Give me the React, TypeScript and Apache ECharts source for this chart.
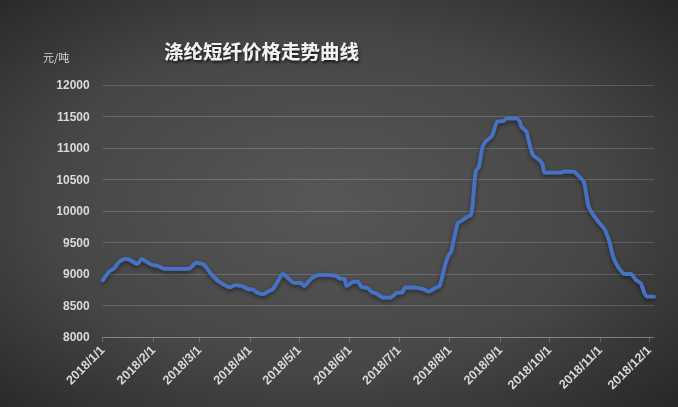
import React, { useEffect, useRef } from "react";
import * as echarts from "echarts";

// Sampled price points [date, 元/吨]
const pointDates = [
  "2018/1/1", "2018/1/5", "2018/1/8", "2018/1/11", "2018/1/15", "2018/1/18", "2018/1/22", "2018/1/25", "2018/1/27", "2018/1/31",
  "2018/2/4", "2018/2/8", "2018/2/23", "2018/2/27", "2018/3/4", "2018/3/8", "2018/3/13", "2018/3/20", "2018/3/23", "2018/3/27",
  "2018/3/31", "2018/4/3", "2018/4/5", "2018/4/9", "2018/4/12", "2018/4/15", "2018/4/18", "2018/4/21", "2018/4/25", "2018/4/28",
  "2018/5/2", "2018/5/4", "2018/5/8", "2018/5/11", "2018/5/15", "2018/5/23", "2018/5/26", "2018/5/29", "2018/5/30", "2018/6/3",
  "2018/6/6", "2018/6/8", "2018/6/12", "2018/6/15", "2018/6/17", "2018/6/21", "2018/6/26", "2018/6/28", "2018/6/30", "2018/7/3",
  "2018/7/5", "2018/7/11", "2018/7/16", "2018/7/19", "2018/7/23", "2018/7/26", "2018/7/29", "2018/7/31", "2018/8/2", "2018/8/6",
  "2018/8/9", "2018/8/12", "2018/8/14", "2018/8/15", "2018/8/17", "2018/8/19", "2018/8/21", "2018/8/23", "2018/8/27", "2018/8/30",
  "2018/9/3", "2018/9/5", "2018/9/11", "2018/9/13", "2018/9/14", "2018/9/17", "2018/9/19", "2018/9/21", "2018/9/25", "2018/9/27",
  "2018/9/28", "2018/10/8", "2018/10/10", "2018/10/16", "2018/10/19", "2018/10/22", "2018/10/23", "2018/10/25", "2018/10/28", "2018/10/31",
  "2018/11/4", "2018/11/7", "2018/11/9", "2018/11/12", "2018/11/16", "2018/11/20", "2018/11/23", "2018/11/26", "2018/11/28", "2018/11/30",
  "2018/12/4",
];
const pointValues = [
  8900, 9040, 9090, 9195, 9240, 9220, 9160, 9240, 9210, 9145,
  9125, 9080, 9085, 9180, 9145, 9010, 8880, 8790, 8825, 8810,
  8760, 8755, 8710, 8680, 8720, 8760, 8880, 9000, 8920, 8860,
  8860, 8810, 8915, 8970, 8985, 8975, 8930, 8915, 8810, 8875,
  8880, 8800, 8775, 8705, 8695, 8630, 8625, 8665, 8705, 8705,
  8790, 8785, 8760, 8720, 8775, 8815, 9115, 9275, 9355, 9805,
  9855, 9910, 9935, 10070, 10625, 10705, 10995, 11100, 11195, 11415,
  11430, 11470, 11470, 11415, 11335, 11260, 11050, 10890, 10810, 10730,
  10610, 10610, 10630, 10625, 10555, 10465, 10360, 10070, 9935, 9830,
  9700, 9490, 9275, 9115, 9000, 9000, 8905, 8850, 8705, 8640,
  8640,
];

const axisStart = "2018/1/1";
const axisEnd = "2018/12/4";
const yMin = 8000;
const yMax = 12000;
const yStep = 500;

function dayCategories(start: string, end: string): string[] {
  const [ys, ms, ds] = start.split("/").map(Number);
  const [ye, me, de] = end.split("/").map(Number);
  const d = new Date(Date.UTC(ys, ms - 1, ds));
  const e = new Date(Date.UTC(ye, me - 1, de));
  const out: string[] = [];
  while (d.getTime() <= e.getTime()) {
    out.push(`${d.getUTCFullYear()}/${d.getUTCMonth() + 1}/${d.getUTCDate()}`);
    d.setUTCDate(d.getUTCDate() + 1);
  }
  return out;
}

export default function App() {
  const ref = useRef<HTMLDivElement>(null);
  useEffect(() => {
    if (!ref.current) return;
    const chart = echarts.init(ref.current, null, { renderer: "svg" });
    const categories = dayCategories(axisStart, axisEnd);
    const isMonthStart = (_i: number, v: string) => v.split("/")[2] === "1";
    const gridColor = "rgba(255,255,255,0.16)";
    chart.setOption({
      animation: false,
      backgroundColor: {
        type: "radial",
        x: 0.48,
        y: 0.5,
        r: 0.75,
        colorStops: [
          { offset: 0, color: "#575757" },
          { offset: 0.55, color: "#464646" },
          { offset: 1, color: "#242424" },
        ],
      },
      title: {
        text: "涤纶短纤价格走势曲线",
        left: 159,
        top: 36,
        textStyle: {
          color: "#f2f2f2",
          fontSize: 19.5,
          fontWeight: "bold",
          fontFamily: "Noto Sans CJK SC",
          textShadowColor: "rgba(0,0,0,0.75)",
          textShadowBlur: 3,
          textShadowOffsetX: 1,
          textShadowOffsetY: 2,
        },
      },
      graphic: [
        {
          type: "text",
          left: 43,
          top: 51,
          style: {
            text: "元/吨",
            fill: "#d9d9d9",
            fontSize: 11,
            fontFamily: "Noto Sans CJK SC",
          },
        },
      ],
      grid: { left: 102.7, right: 24, top: 85, bottom: 70, containLabel: false },
      xAxis: {
        type: "category",
        data: categories,
        boundaryGap: false,
        axisLine: { show: true, lineStyle: { color: "rgba(255,255,255,0.22)", width: 1 } },
        axisTick: { show: true, interval: isMonthStart, length: 5, lineStyle: { color: "rgba(255,255,255,0.22)" } },
        axisLabel: {
          interval: isMonthStart,
          rotate: 45,
          margin: 11,
          color: "#d9d9d9",
          fontSize: 12.5,
          fontWeight: "bold",
          fontFamily: "Liberation Sans",
        },
        splitLine: { show: false },
      },
      yAxis: {
        type: "value",
        min: yMin,
        max: yMax,
        interval: yStep,
        axisLine: { show: false },
        axisTick: { show: false },
        axisLabel: {
          color: "#d9d9d9",
          fontSize: 12,
          fontWeight: "bold",
          fontFamily: "Liberation Sans",
          margin: 13,
          formatter: (v: number) => String(v),
        },
        splitLine: { lineStyle: { color: gridColor, width: 1 } },
      },
      series: [
        {
          type: "line",
          data: pointDates.map((d, i) => [d, pointValues[i]]),
          showSymbol: false,
          smooth: 0.2,
          lineStyle: {
            color: "#4472C4",
            width: 3.8,
            cap: "round",
            join: "round",
            shadowColor: "rgba(0,0,0,0.5)",
            shadowBlur: 4,
            shadowOffsetY: 2,
          },
          itemStyle: { color: "#4472C4" },
        },
      ],
    });
    return () => chart.dispose();
  }, []);
  return <div ref={ref} style={{ position: "fixed", left: 0, top: 0, width: 678, height: 407 }} />;
}
